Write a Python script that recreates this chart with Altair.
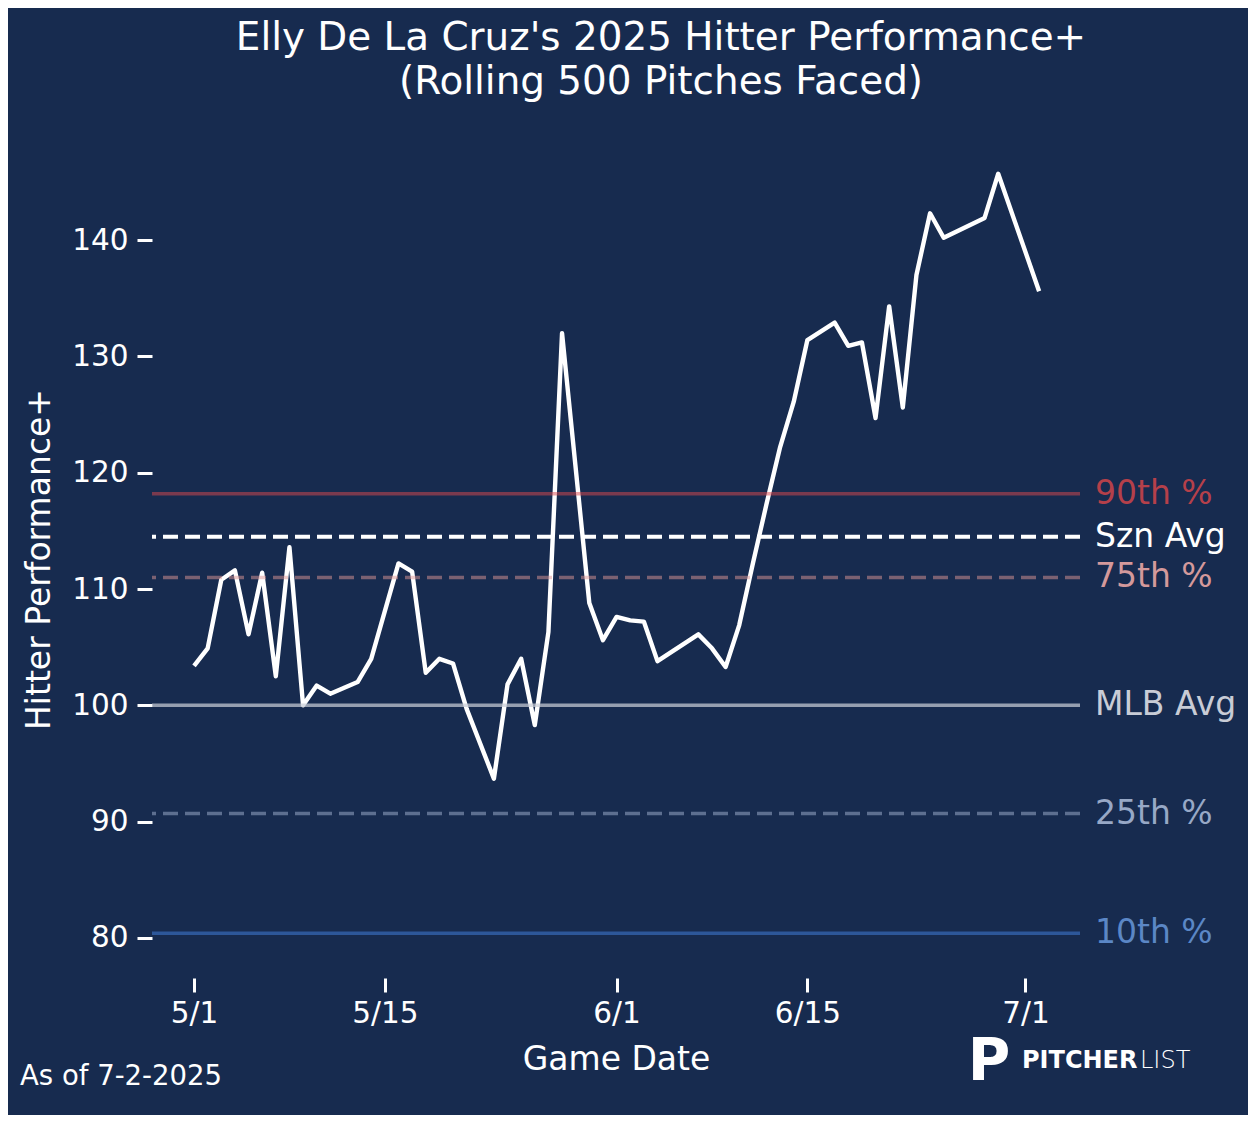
import altair as alt
import pandas as pd

# ---- data ----
dates = [
    "2025-05-01", "2025-05-02", "2025-05-03", "2025-05-04", "2025-05-05", "2025-05-06",
    "2025-05-07", "2025-05-08", "2025-05-09", "2025-05-10", "2025-05-11", "2025-05-13",
    "2025-05-14", "2025-05-16", "2025-05-17", "2025-05-18", "2025-05-19", "2025-05-20",
    "2025-05-21", "2025-05-23", "2025-05-24", "2025-05-25", "2025-05-26", "2025-05-27",
    "2025-05-28", "2025-05-30", "2025-05-31", "2025-06-01", "2025-06-02", "2025-06-03",
    "2025-06-04", "2025-06-07", "2025-06-08", "2025-06-09", "2025-06-10", "2025-06-11",
    "2025-06-12", "2025-06-13", "2025-06-14", "2025-06-15", "2025-06-17", "2025-06-18",
    "2025-06-19", "2025-06-20", "2025-06-21", "2025-06-22", "2025-06-23", "2025-06-24",
    "2025-06-25", "2025-06-28", "2025-06-29", "2025-07-02",
]
values = [
    103.4, 104.9, 110.8, 111.6, 106.1, 111.4,
    102.5, 113.6, 100.0, 101.7, 101.0, 102.0,
    104.0, 112.2, 111.5, 102.8, 104.0, 103.6,
    99.7, 93.7, 101.8, 104.0, 98.3, 106.3,
    132.0, 108.8, 105.6, 107.6, 107.3, 107.2,
    103.8, 106.1, 104.9, 103.3, 106.9, 112.2,
    117.3, 122.2, 126.1, 131.4, 132.9, 130.9,
    131.2, 124.7, 134.3, 125.6, 137.0, 142.3,
    140.2, 141.9, 145.7, 135.6,
]

ref_labels = ["90th %", "Szn Avg", "75th %", "MLB Avg", "25th %", "10th %"]
ref_values = [118.2, 114.5, 111.0, 100.0, 90.7, 80.4]

y_ticks = [80, 90, 100, 110, 120, 130, 140]
x_tick_days = [(5, 1), (5, 15), (6, 1), (6, 15), (7, 1)]

title_lines = ["Elly De La Cruz's 2025 Hitter Performance+", "(Rolling 500 Pitches Faced)"]
note_text = ["As of 7-2-2025"]

# ---- styles ----
BG = "#172B4F"
FONT = "DejaVu Sans"
line_colors = ["#DD494D", "#FFFFFF", "#DF9795", "#C8CCD6", "#97A8C6", "#2D5799"]
line_opac = [0.5, 1.0, 0.5, 0.72, 0.55, 1.0]
line_dash = [[1, 0], [15, 7], [15, 7], [1, 0], [15, 7], [1, 0]]
line_width = [3.5, 4.0, 3.5, 3.5, 3.5, 3.5]
label_colors = ["#B5404A", "#FFFFFF", "#D4999B", "#C8CCD6", "#97A8C6", "#5B87C6"]

df = pd.DataFrame({"date": dates, "value": values})
ref_df = pd.DataFrame({"label": ref_labels, "value": ref_values})

y_scale = alt.Scale(domain=[76.56, 148.6], nice=False, zero=False)
y_axis = alt.Axis(
    values=y_ticks, domain=False, grid=False, tickSize=15, tickWidth=3,
    tickColor="white", labelColor="white", labelFontSize=29.5, labelFont=FONT,
    labelPadding=9, title="Hitter Performance+", titleFont=FONT,
    titleFontSize=33, titleFontWeight="normal", titleColor="white",
    titlePadding=15,
)


def yenc():
    return alt.Y("value:Q", scale=y_scale, axis=y_axis)


x_scale = alt.Scale(
    type="utc",
    domain=[alt.DateTime(year=2025, month=4, date=27, hours=22, utc=True),
            alt.DateTime(year=2025, month=7, date=5, utc=True)],
)
x_axis = alt.Axis(
    values=[alt.DateTime(year=2025, month=m, date=d, utc=True) for m, d in x_tick_days],
    labelExpr="utcFormat(datum.value, '%-m/%-d')", domain=False, grid=False,
    tickSize=14, tickWidth=3, tickColor="white", labelColor="white",
    labelFontSize=29.5, labelFont=FONT, labelPadding=7, labelFlush=False,
    title="Game Date", titleFont=FONT, titleFontSize=33,
    titleFontWeight="normal", titleColor="white", titlePadding=16,
)

main_line = alt.Chart(df).mark_line(
    color="white", strokeWidth=4.4, strokeJoin="round", strokeCap="butt"
).encode(x=alt.X("date:T", scale=x_scale, axis=x_axis), y=yenc())

rules = []
for i in range(len(ref_labels)):
    rules.append(
        alt.Chart(ref_df.iloc[[i]]).mark_rule(
            color=line_colors[i], opacity=line_opac[i],
            strokeDash=line_dash[i], strokeWidth=line_width[i],
        ).encode(y=yenc())
    )

ref_text = alt.Chart(ref_df).mark_text(
    align="left", baseline="middle", fontSize=33, font=FONT
).encode(
    y=yenc(), x=alt.value(943), text="label:N",
    color=alt.Color("label:N", scale=alt.Scale(domain=ref_labels, range=label_colors), legend=None),
)

note = alt.Chart(pd.DataFrame({"t": note_text})).mark_text(
    align="left", baseline="middle", fontSize=27.5, font=FONT, color="white"
).encode(x=alt.value(-132), y=alt.value(937), text="t:N")

logo_p = alt.Chart(pd.DataFrame({"t": ["P"]})).mark_text(
    align="center", baseline="alphabetic", fontSize=58, font=FONT,
    fontWeight="bold", color="white"
).encode(x=alt.value(837), y=alt.value(940), text="t:N")

logo_a = alt.Chart(pd.DataFrame({"t": ["PITCHER"]})).mark_text(
    align="left", baseline="alphabetic", fontSize=24, font=FONT,
    fontWeight="bold", color="white"
).encode(x=alt.value(870), y=alt.value(928), text="t:N")

logo_b = alt.Chart(pd.DataFrame({"t": ["LIST"]})).mark_text(
    align="left", baseline="alphabetic", fontSize=24, font=FONT,
    fontWeight=200, color="white"
).encode(x=alt.value(988), y=alt.value(928), text="t:N")

chart = alt.layer(main_line, *rules, ref_text, note, logo_p, logo_a, logo_b).properties(
    width=928, height=838,
    title=alt.Title(
        title_lines, fontSize=38.9, font=FONT, fontWeight="normal",
        color="white", lineHeight=44, anchor="middle", dx=45, offset=38,
    ),
    padding={"left": 144, "top": 132, "right": 168, "bottom": 137},
    autosize=alt.AutoSizeParams(type="none"),
    background=BG,
).configure_view(stroke=None)

chart.save("out.html", embed_options={"renderer": "svg", "actions": False})
